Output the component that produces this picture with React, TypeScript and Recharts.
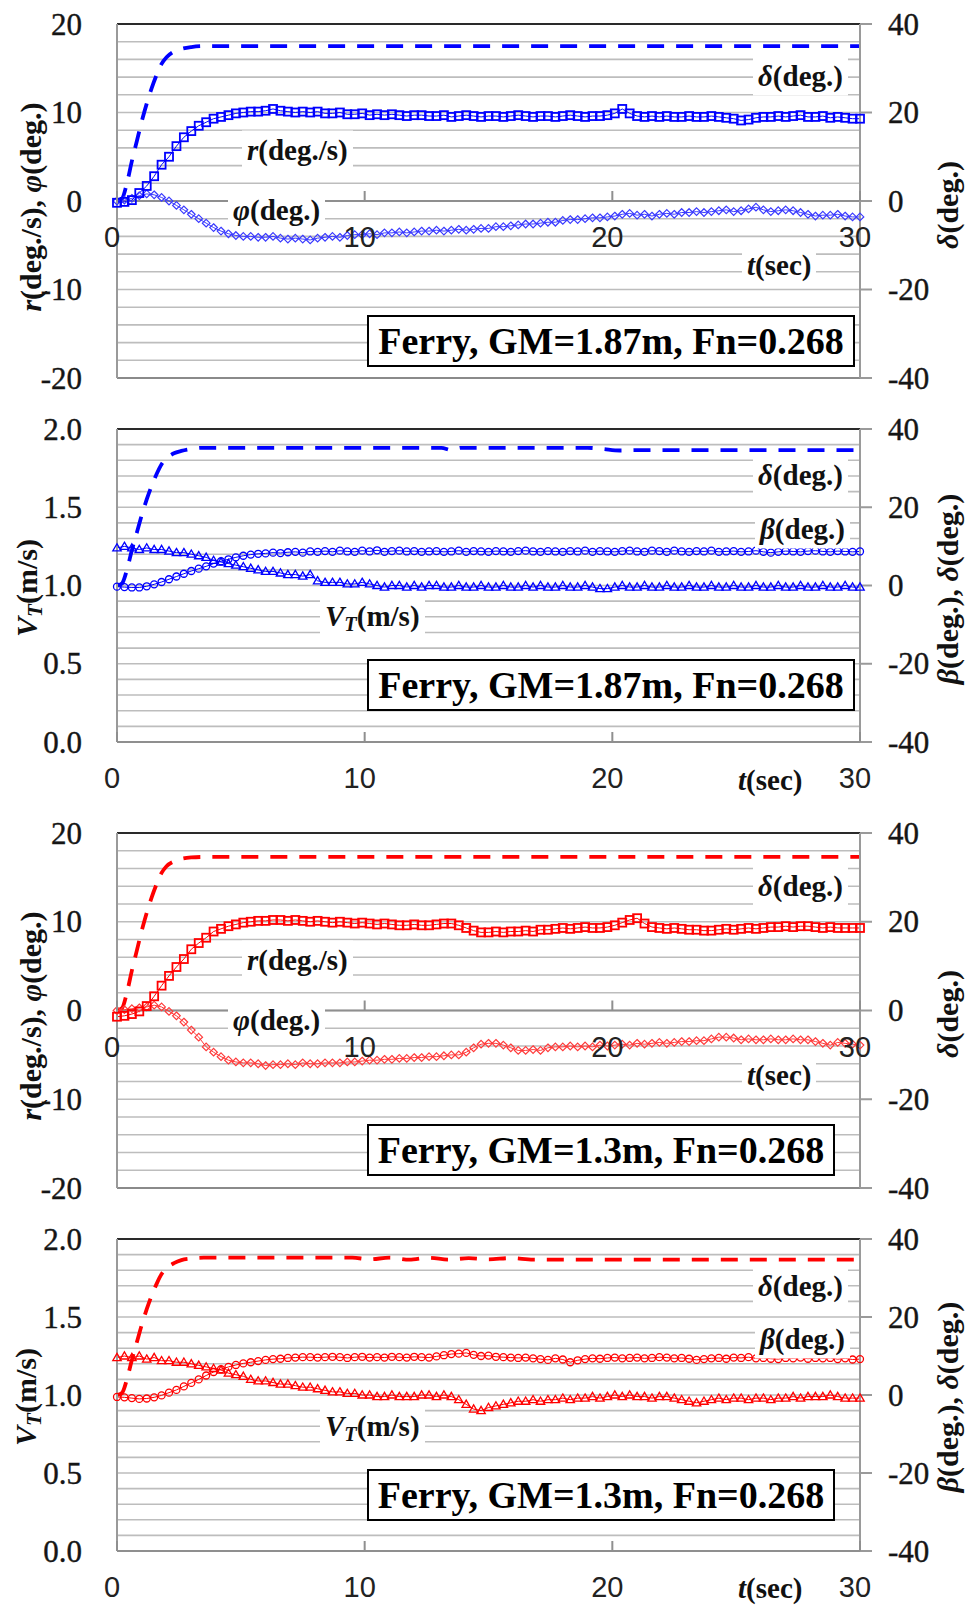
import React from 'react';
import { LineChart, Line, XAxis, YAxis, ReferenceLine, ReferenceDot } from 'recharts';

// logger sample interval (s), values read every 0.3 s off the plots
const DT = 0.3;
const TIME_TICKS = [0, 10, 20, 30];

const RATE_TICKS = [-20, -10, 0, 10, 20];
const RATE_GRID = [-20, -18, -16, -14, -12, -10, -8, -6, -4, -2, 0, 2, 4, 6, 8, 10, 12, 14, 16, 18, 20];
const VT_TICKS = [0, 0.5, 1, 1.5, 2];
const VT_GRID = [0, 0.1, 0.2, 0.3, 0.4, 0.5, 0.6, 0.7, 0.8, 0.9, 1, 1.1, 1.2, 1.3, 1.4, 1.5, 1.6, 1.7, 1.8, 1.9, 2];
const DEG_TICKS = [-40, -20, 0, 20, 40];

// ---- GM = 1.87 m ----
const r187 = [
  -0.2, -0.1, 0.1, 0.9, 1.7, 2.8, 4.1, 5.0, 6.2, 7.2,
  7.9, 8.5, 8.9, 9.3, 9.5, 9.7, 9.9, 10.0, 10.1, 10.1,
  10.2, 10.4, 10.2, 10.1, 10.0, 10.1, 10.0, 10.1, 9.9, 9.9,
  10.0, 9.8, 9.8, 9.9, 9.7, 9.8, 9.7, 9.8, 9.7, 9.6,
  9.7, 9.7, 9.6, 9.6, 9.7, 9.5, 9.6, 9.7, 9.6, 9.5,
  9.6, 9.6, 9.5, 9.6, 9.7, 9.6, 9.5, 9.6, 9.6, 9.5,
  9.6, 9.7, 9.6, 9.5, 9.6, 9.6, 9.7, 9.9, 10.4, 9.9,
  9.6, 9.5, 9.6, 9.5, 9.6, 9.5, 9.5, 9.6, 9.5, 9.5,
  9.6, 9.5, 9.4, 9.3, 9.1, 9.2, 9.4, 9.5, 9.5, 9.6,
  9.5, 9.6, 9.7, 9.5, 9.5, 9.6, 9.4, 9.5, 9.4, 9.3,
  9.3,
];
const phi187 = [
  0.0, 0.1, 0.3, 0.6, 0.8, 0.7, 0.4, 0.0, -0.5, -1.0,
  -1.5, -2.0, -2.5, -3.0, -3.4, -3.7, -3.9, -4.0, -4.0, -4.1,
  -4.1, -4.0, -4.2, -4.3, -4.2, -4.3, -4.4, -4.2, -4.1, -4.0,
  -4.1, -3.9, -3.8, -3.8, -3.7, -3.8, -3.6, -3.6, -3.5, -3.6,
  -3.5, -3.4, -3.4, -3.3, -3.4, -3.3, -3.2, -3.3, -3.2, -3.1,
  -3.1, -2.9, -2.9, -2.8, -2.7, -2.6, -2.6, -2.5, -2.4, -2.4,
  -2.2, -2.1, -2.1, -2.0, -1.9, -1.9, -1.8, -1.7, -1.5, -1.4,
  -1.6, -1.5, -1.7, -1.5, -1.4, -1.5, -1.3, -1.3, -1.2, -1.3,
  -1.2, -1.1, -1.0, -1.2, -1.1, -0.9, -0.7, -1.0, -1.2, -1.1,
  -1.0, -1.1, -1.3, -1.5, -1.7, -1.6, -1.6, -1.5, -1.7, -1.8,
  -1.8,
];
const vt187 = [
  1.24, 1.25, 1.24, 1.23, 1.24, 1.23, 1.23, 1.22, 1.21, 1.21,
  1.20, 1.19, 1.18, 1.16, 1.15, 1.14, 1.13, 1.12, 1.11, 1.10,
  1.09, 1.09, 1.08, 1.07, 1.07, 1.06, 1.07, 1.03, 1.02, 1.02,
  1.02, 1.01, 1.01, 1.02, 1.01, 1.00, 0.99, 1.00, 1.00, 0.99,
  1.00, 0.99, 1.00, 1.00, 0.99, 0.99, 1.00, 0.99, 0.99, 1.00,
  0.99, 0.99, 1.00, 0.99, 0.99, 1.00, 0.99, 1.00, 0.99, 0.99,
  1.00, 0.99, 0.99, 1.00, 0.99, 0.98, 0.98, 0.99, 1.00, 0.99,
  0.99, 1.00, 0.99, 0.99, 1.00, 0.99, 0.99, 1.00, 0.99, 0.99,
  1.00, 0.99, 0.99, 1.00, 0.99, 0.99, 1.00, 0.99, 0.99, 1.00,
  0.99, 0.99, 1.00, 0.99, 0.99, 1.00, 0.99, 0.99, 1.00, 0.99,
  0.99,
];
const beta187 = [
  -0.3, -0.4, -0.5, -0.5, -0.2, 0.3, 0.9, 1.6, 2.3, 3.0,
  3.7, 4.3, 4.9, 5.6, 6.2, 6.7, 7.2, 7.6, 7.9, 8.1,
  8.2, 8.4, 8.3, 8.5, 8.6, 8.4, 8.7, 8.6, 8.8, 8.6,
  8.9, 8.7, 8.6, 8.9, 8.7, 9.0, 8.6, 8.8, 8.9, 8.7,
  8.8, 8.6, 8.7, 8.8, 8.6, 8.7, 8.9, 8.6, 8.8, 8.7,
  8.6, 8.8, 8.7, 8.6, 8.8, 8.9, 8.7, 8.6, 8.8, 8.7,
  8.6, 8.8, 8.7, 8.9, 8.6, 8.8, 8.7, 8.6, 8.8, 8.9,
  8.7, 8.6, 8.9, 8.8, 8.6, 8.9, 8.7, 8.6, 8.8, 8.7,
  8.9, 8.6, 8.7, 8.8, 8.6, 8.7, 8.9, 8.6, 8.4, 8.6,
  8.8, 8.7, 8.6, 8.8, 8.9, 8.7, 8.6, 8.8, 8.7, 8.6,
  8.7,
];
// rudder angle, sampled where its shape changes
const delta187aT = [0, 0.2, 0.4, 0.6, 0.8, 1.0, 1.2, 1.4, 1.6, 1.8, 2.0, 2.3, 2.6, 3.0, 3.5, 30];
const delta187a = [0, 0.5, 4, 9, 13.5, 18, 22, 25.5, 28.5, 31, 32.5, 33.8, 34.4, 34.8, 35, 35];
const delta187bT = [0, 0.2, 0.4, 0.6, 0.8, 1.0, 1.2, 1.4, 1.6, 1.8, 2.0, 2.3, 2.6, 3.0, 3.5, 13.1, 13.5, 13.9, 19.0, 19.6, 20.3, 21.0, 30];
const delta187b = [0, 0.5, 4, 9, 13.5, 18, 22, 25.5, 28.5, 31, 32.5, 33.8, 34.4, 34.9, 35.2, 35.2, 34.6, 35.2, 35.2, 34.9, 34.5, 34.6, 34.6];

// ---- GM = 1.3 m ----
const r13 = [
  -0.7, -0.6, -0.4, -0.1, 0.5, 1.6, 2.8, 3.9, 4.9, 5.8,
  6.9, 7.6, 8.2, 8.9, 9.2, 9.5, 9.7, 9.9, 10.0, 10.1,
  10.1, 10.2, 10.2, 10.1, 10.2, 10.1, 10.0, 10.1, 10.0, 9.9,
  10.0, 9.9, 9.8, 9.9, 9.8, 9.7, 9.8, 9.7, 9.6, 9.6,
  9.7, 9.6, 9.6, 9.7, 9.8, 9.8, 9.6, 9.3, 9.0, 8.8,
  8.8, 8.9, 8.8, 8.9, 8.9, 9.0, 8.9, 9.1, 9.1, 9.2,
  9.3, 9.2, 9.3, 9.4, 9.3, 9.3, 9.4, 9.6, 9.9, 10.2,
  10.4, 9.8, 9.4, 9.3, 9.2, 9.3, 9.2, 9.1, 9.1, 9.0,
  9.0, 9.1, 9.2, 9.1, 9.2, 9.3, 9.2, 9.3, 9.4, 9.4,
  9.5, 9.4, 9.5, 9.5, 9.4, 9.3, 9.4, 9.3, 9.3, 9.3,
  9.3,
];
const phi13 = [
  0.0, 0.1, 0.2, 0.3, 0.4, 0.6, 0.4, -0.1, -0.6, -1.3,
  -2.2, -3.0, -4.1, -4.7, -5.2, -5.6, -5.8, -5.9, -5.9, -6.0,
  -6.2, -6.1, -6.1, -6.0, -6.1, -5.9, -6.0, -6.0, -5.9, -5.9,
  -5.9, -5.8, -5.8, -5.7, -5.6, -5.6, -5.5, -5.5, -5.4, -5.4,
  -5.3, -5.3, -5.2, -5.2, -5.1, -5.0, -5.0, -4.7, -4.2, -3.8,
  -3.7, -3.7, -3.9, -4.2, -4.5, -4.5, -4.4, -4.5, -4.2, -4.1,
  -4.1, -4.0, -4.1, -4.0, -4.1, -3.9, -4.0, -3.9, -3.8, -3.9,
  -3.7, -3.8, -3.7, -3.6, -3.7, -3.6, -3.5, -3.5, -3.4, -3.4,
  -3.2, -3.0, -3.0, -3.1, -3.3, -3.2, -3.3, -3.3, -3.2, -3.3,
  -3.3, -3.2, -3.3, -3.3, -3.5, -3.7, -3.9, -3.6, -3.7, -3.8,
  -3.9,
];
const vt13 = [
  1.24, 1.25, 1.24, 1.25, 1.23, 1.24, 1.22, 1.22, 1.21, 1.21,
  1.20, 1.19, 1.18, 1.17, 1.16, 1.14, 1.13, 1.12, 1.10, 1.09,
  1.09, 1.08, 1.07, 1.07, 1.06, 1.05, 1.05, 1.04, 1.03, 1.02,
  1.02, 1.01, 1.01, 1.00, 1.00, 0.99, 0.99, 1.00, 0.99, 0.99,
  0.99, 1.00, 1.00, 0.99, 1.00, 0.99, 0.97, 0.94, 0.91, 0.90,
  0.92, 0.93, 0.94, 0.95, 0.96, 0.96, 0.97, 0.96, 0.97, 0.97,
  0.98, 0.97, 0.98, 0.98, 0.99, 0.98, 0.99, 1.00, 0.99, 1.00,
  0.99, 0.99, 0.98, 0.99, 0.99, 0.98, 0.97, 0.96, 0.95, 0.96,
  0.97, 0.98, 0.97, 0.98, 0.98, 0.97, 0.98, 0.98, 0.97, 0.98,
  0.98, 0.99, 0.98, 0.99, 0.99, 0.99, 1.00, 0.99, 0.98, 0.98,
  0.98,
];
const beta13 = [
  -0.5, -0.6, -0.8, -1.0, -0.9, -0.6, -0.1, 0.6, 1.3, 2.2,
  3.1, 4.0, 5.0, 5.9, 6.6, 7.2, 7.7, 8.1, 8.4, 8.7,
  9.0, 9.2, 9.3, 9.5, 9.6, 9.7, 9.7, 9.6, 9.7, 9.8,
  9.7, 9.5, 9.7, 9.8, 9.6, 9.7, 9.6, 9.8, 9.7, 9.6,
  9.8, 9.7, 9.6, 9.9, 10.2, 10.5, 10.6, 10.8, 10.3, 10.0,
  10.1, 9.8, 9.7, 9.6, 9.5, 9.6, 9.4, 9.2, 9.0, 9.4,
  9.1, 8.4, 8.9, 9.2, 9.4, 9.3, 9.5, 9.6, 9.4, 9.5,
  9.6, 9.4, 9.5, 9.7, 9.6, 9.4, 9.5, 9.3, 9.0, 9.2,
  9.4, 9.5, 9.3, 9.6, 9.5, 9.7, 9.4, 9.5, 9.3, 9.2,
  9.5, 9.4, 9.6, 9.3, 9.5, 9.4, 9.5, 9.2, 9.4, 9.1,
  9.2,
];
const delta13aT = [0, 0.2, 0.4, 0.6, 0.8, 1.0, 1.2, 1.4, 1.6, 1.8, 2.0, 2.3, 2.6, 3.0, 3.5, 30];
const delta13a = [0, 0.5, 4, 9, 13.5, 18, 22, 25.5, 28.5, 31, 32.5, 33.6, 34.2, 34.5, 34.6, 34.6];
const delta13bT = [0, 0.2, 0.4, 0.6, 0.8, 1.0, 1.2, 1.4, 1.6, 1.8, 2.0, 2.3, 2.6, 3.0, 3.5, 9.5, 10.2, 11.0, 11.8, 12.6, 13.4, 14.2, 15.0, 15.9, 16.8, 30];
const delta13b = [0, 0.5, 4, 9, 13.5, 18, 22, 25.5, 28.5, 31, 32.5, 33.8, 34.6, 35.0, 35.2, 35.2, 34.8, 35.2, 34.7, 35.2, 34.7, 35.1, 34.8, 35.1, 34.7, 34.7];

const BLUE = '#0000ff';
const RED = '#ff0000';
const SERIF = '"Liberation Serif", "Times New Roman", serif';
const SANS = '"Liberation Sans", Arial, sans-serif';

type Pt = { t: number; v: number };
const sampled = (vals: number[]): Pt[] => vals.map((v, i) => ({ t: Math.round(i * DT * 10) / 10, v }));
const paired = (ts: number[], vals: number[]): Pt[] => ts.map((t, i) => ({ t, v: vals[i] }));

type Marker = 'square' | 'diamond' | 'triangle' | 'circle';

const makeDot = (marker: Marker, color: string) => (p: any) => {
  const { cx, cy, index } = p;
  const k = `${marker}-${index}`;
  if (cx == null || cy == null) return <g key={k} />;
  if (marker === 'square')
    return <rect key={k} x={cx - 4} y={cy - 4} width={8} height={8} fill="none" stroke={color} strokeWidth={1.8} />;
  if (marker === 'diamond')
    return <path key={k} d={`M${cx},${cy - 3.8}L${cx + 3.8},${cy}L${cx},${cy + 3.8}L${cx - 3.8},${cy}Z`} fill="none" stroke={color} strokeWidth={1.2} />;
  if (marker === 'triangle')
    return <path key={k} d={`M${cx},${cy - 4.2}L${cx + 4.2},${cy + 3}L${cx - 4.2},${cy + 3}Z`} fill="none" stroke={color} strokeWidth={1.3} />;
  return <circle key={k} cx={cx} cy={cy} r={3.5} fill="none" stroke={color} strokeWidth={1.3} />;
};

// serif tick text, drawn at the position the axis computes
const serifTick = (fmt: (v: number) => string) => (p: any) => (
  <text
    x={p.x}
    y={p.y}
    textAnchor={p.textAnchor}
    dominantBaseline="central"
    style={{ fontFamily: SERIF, fontSize: 31 }}
    fill="#151515"
    stroke="#151515"
    strokeWidth={0.4}
  >
    {fmt(p.payload.value)}
  </text>
);

type Series = { data: Pt[]; axis: 'l' | 'r'; color: string; marker?: Marker; dashed?: boolean };

interface PanelProps {
  top: number;
  height: number;
  mTop: number;
  mBottom: number;
  left: [number, number];
  leftTicks: number[];
  grid: number[];
  leftFmt: (v: number) => string;
  xAt: number; // left-axis value where the time labels sit
  series: Series[];
}

function Panel({ top, height, mTop, mBottom, left, leftTicks, grid, leftFmt, xAt, series }: PanelProps) {
  return (
    <div style={{ position: 'absolute', left: 0, top, fontFamily: SERIF }}>
      <LineChart width={969} height={height} margin={{ top: mTop, right: 0, bottom: mBottom, left: 0 }}>
        <XAxis type="number" dataKey="t" domain={[0, 30]} ticks={TIME_TICKS} hide />
        <YAxis
          yAxisId="l"
          orientation="left"
          width={117}
          domain={left}
          ticks={leftTicks}
          interval={0}
          tick={serifTick(leftFmt)}
          tickLine={false}
          tickSize={0}
          tickMargin={35}
          axisLine={{ stroke: '#9a9a9a', strokeWidth: 2 }}
          allowDataOverflow
        />
        <YAxis
          yAxisId="r"
          orientation="right"
          width={109}
          domain={[-40, 40]}
          ticks={DEG_TICKS}
          interval={0}
          tick={serifTick(String)}
          tickLine={{ stroke: '#9a9a9a', strokeWidth: 2 }}
          tickSize={12}
          tickMargin={16}
          axisLine={{ stroke: '#9a9a9a', strokeWidth: 2 }}
          allowDataOverflow
        />
        {grid.map((g) => (
          <ReferenceLine key={`g${g}`} yAxisId="l" y={g} stroke="#bdbdbd" strokeWidth={1.6} />
        ))}
        <ReferenceLine yAxisId="l" y={left[1]} stroke="#2a2a2a" strokeWidth={2} />
        <ReferenceLine yAxisId="l" y={left[0]} stroke="#8a8a8a" strokeWidth={2} />
        <ReferenceLine yAxisId="l" y={xAt} stroke="#8f8f8f" strokeWidth={2} />
        {series.map((s, i) => (
          <Line
            key={i}
            data={s.data}
            dataKey="v"
            yAxisId={s.axis}
            type={s.dashed ? 'monotone' : 'linear'}
            stroke={s.color}
            strokeWidth={s.dashed ? 3.8 : 1}
            strokeDasharray={s.dashed ? '17 12' : undefined}
            dot={s.marker ? makeDot(s.marker, s.color) : false}
            activeDot={false}
            legendType="none"
            isAnimationActive={false}
          />
        ))}
        {TIME_TICKS.map((t) => (
          <ReferenceDot
            key={t}
            x={t}
            y={xAt}
            yAxisId="l"
            r={0}
            shape={(p: any) => (
              <g>
                <line x1={p.cx} x2={p.cx} y1={p.cy} y2={p.cy - 10} stroke="#8f8f8f" strokeWidth={2} />
                <text x={p.cx - 5} y={p.cy + 36} textAnchor="middle" dominantBaseline="central" style={{ fontFamily: SANS, fontSize: 29 }} fill="#222">
                  {t}
                </text>
              </g>
            )}
          />
        ))}
      </LineChart>
    </div>
  );
}

const Note = ({ x, y, bg = true, children }: { x: number; y: number; bg?: boolean; children: React.ReactNode }) => (
  <div
    style={{
      position: 'absolute',
      left: x - 5,
      top: y,
      transform: 'translateY(-50%)',
      padding: '5px 5px',
      background: bg ? '#fff' : 'transparent',
      font: `bold 29px ${SERIF}`,
      lineHeight: 1,
      color: '#111',
      whiteSpace: 'nowrap',
    }}
  >
    {children}
  </div>
);

const VTitle = ({ x, y, children }: { x: number; y: number; children: React.ReactNode }) => (
  <div
    style={{
      position: 'absolute',
      left: x,
      top: y,
      transform: 'translate(-50%, -50%) rotate(-90deg)',
      font: `bold 30px ${SERIF}`,
      lineHeight: 1,
      color: '#111',
      whiteSpace: 'nowrap',
    }}
  >
    {children}
  </div>
);

const Box = ({ x, y, w, children }: { x: number; y: number; w: number; children: React.ReactNode }) => (
  <div
    style={{
      position: 'absolute',
      left: x,
      top: y,
      width: w,
      height: 52,
      boxSizing: 'border-box',
      border: '2px solid #000',
      background: '#fff',
      display: 'flex',
      alignItems: 'center',
      justifyContent: 'center',
      font: `bold 38px ${SERIF}`,
      color: '#000',
      whiteSpace: 'nowrap',
    }}
  >
    {children}
  </div>
);

const I = ({ children }: { children: React.ReactNode }) => <i>{children}</i>;
const VT = () => (
  <>
    <I>V</I>
    <sub style={{ fontSize: '0.7em', verticalAlign: '-0.25em' }}>
      <I>T</I>
    </sub>
    (m/s)
  </>
);

export default function App() {
  const fmtInt = (v: number) => String(v);
  const fmtOne = (v: number) => v.toFixed(1);
  return (
    <div style={{ position: 'absolute', left: 0, top: 0, width: 969, height: 1607, background: '#fff', overflow: 'hidden' }}>
      <Panel
        top={0}
        height={400}
        mTop={24}
        mBottom={22}
        left={[-20, 20]}
        leftTicks={RATE_TICKS}
        grid={RATE_GRID}
        leftFmt={fmtInt}
        xAt={0}
        series={[
          { data: paired(delta187aT, delta187a), axis: 'r', color: BLUE, dashed: true },
          { data: sampled(phi187), axis: 'l', color: '#3a3aff', marker: 'diamond' },
          { data: sampled(r187), axis: 'l', color: BLUE, marker: 'square' },
        ]}
      />
      <Panel
        top={400}
        height={400}
        mTop={29}
        mBottom={58}
        left={[0, 2]}
        leftTicks={VT_TICKS}
        grid={VT_GRID}
        leftFmt={fmtOne}
        xAt={0}
        series={[
          { data: paired(delta187bT, delta187b), axis: 'r', color: BLUE, dashed: true },
          { data: sampled(vt187), axis: 'l', color: BLUE, marker: 'triangle' },
          { data: sampled(beta187), axis: 'r', color: BLUE, marker: 'circle' },
        ]}
      />
      <Panel
        top={800}
        height={420}
        mTop={33}
        mBottom={32}
        left={[-20, 20]}
        leftTicks={RATE_TICKS}
        grid={RATE_GRID}
        leftFmt={fmtInt}
        xAt={0}
        series={[
          { data: paired(delta13aT, delta13a), axis: 'r', color: RED, dashed: true },
          { data: sampled(phi13), axis: 'l', color: '#ff3a3a', marker: 'diamond' },
          { data: sampled(r13), axis: 'l', color: RED, marker: 'square' },
        ]}
      />
      <Panel
        top={1200}
        height={407}
        mTop={39}
        mBottom={56}
        left={[0, 2]}
        leftTicks={VT_TICKS}
        grid={VT_GRID}
        leftFmt={fmtOne}
        xAt={0}
        series={[
          { data: paired(delta13bT, delta13b), axis: 'r', color: RED, dashed: true },
          { data: sampled(vt13), axis: 'l', color: RED, marker: 'triangle' },
          { data: sampled(beta13), axis: 'r', color: RED, marker: 'circle' },
        ]}
      />

      {/* panel 1 */}
      <Note x={758} y={76}><I>δ</I>(deg.)</Note>
      <Note x={247} y={150}><I>r</I>(deg./s)</Note>
      <Note x={233} y={210}><I>φ</I>(deg.)</Note>
      <Note x={747} y={265}><I>t</I>(sec)</Note>
      <Box x={367} y={315} w={488}>Ferry, GM=1.87m, Fn=0.268</Box>
      <VTitle x={31} y={207}><I>r</I>(deg./s), <I>φ</I>(deg.)</VTitle>
      <VTitle x={948} y={205}><I>δ</I>(deg.)</VTitle>

      {/* panel 2 */}
      <Note x={758} y={475}><I>δ</I>(deg.)</Note>
      <Note x={760} y={529}><I>β</I>(deg.)</Note>
      <Note x={325} y={618}><VT /></Note>
      <Note x={738} y={780} bg={false}><I>t</I>(sec)</Note>
      <Box x={367} y={659} w={488}>Ferry, GM=1.87m, Fn=0.268</Box>
      <VTitle x={29} y={588}><VT /></VTitle>
      <VTitle x={948} y={589}><I>β</I>(deg.), <I>δ</I>(deg.)</VTitle>

      {/* panel 3 */}
      <Note x={758} y={886}><I>δ</I>(deg.)</Note>
      <Note x={247} y={960}><I>r</I>(deg./s)</Note>
      <Note x={233} y={1020}><I>φ</I>(deg.)</Note>
      <Note x={747} y={1075}><I>t</I>(sec)</Note>
      <Box x={367} y={1124} w={468}>Ferry, GM=1.3m, Fn=0.268</Box>
      <VTitle x={31} y={1016}><I>r</I>(deg./s), <I>φ</I>(deg.)</VTitle>
      <VTitle x={948} y={1014}><I>δ</I>(deg.)</VTitle>

      {/* panel 4 */}
      <Note x={758} y={1286}><I>δ</I>(deg.)</Note>
      <Note x={760} y={1339}><I>β</I>(deg.)</Note>
      <Note x={325} y={1428}><VT /></Note>
      <Note x={738} y={1588} bg={false}><I>t</I>(sec)</Note>
      <Box x={367} y={1469} w={468}>Ferry, GM=1.3m, Fn=0.268</Box>
      <VTitle x={28} y={1397}><VT /></VTitle>
      <VTitle x={948} y={1397}><I>β</I>(deg.), <I>δ</I>(deg.)</VTitle>
    </div>
  );
}
